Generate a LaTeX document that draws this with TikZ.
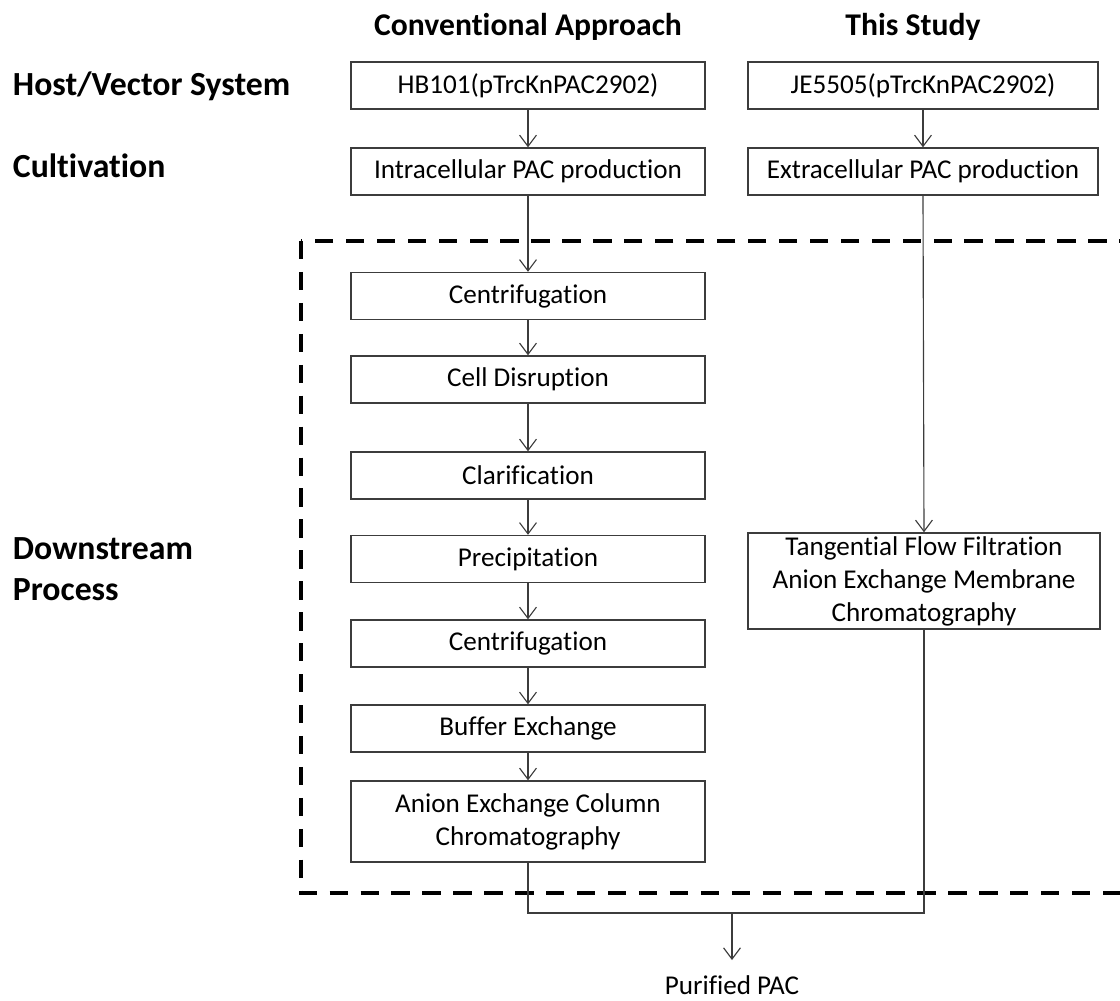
\documentclass[tikz,border=0pt]{standalone}
\usepackage{fontspec}
\setmainfont{Carlito}[Ligatures=NoCommon]
\usetikzlibrary{arrows.meta,positioning}
\definecolor{FlowGray}{RGB}{60,60,60}

\tikzset{
  stepbox/.style={draw=FlowGray, line width=1pt, fill=white, minimum width=8.85cm, minimum height=1.175cm, font=\fontsize{19.3}{23.5}\selectfont, align=center, inner sep=2pt},
  headtext/.style={font=\fontsize{22.5}{27}\selectfont\bfseries, align=left},
  sidetext/.style={font=\fontsize{24}{29}\selectfont\bfseries, align=left, anchor=west},
  flow/.style={draw=FlowGray, line width=0.8pt, -{Straight Barb[length=8pt,width=12pt]}},
  link/.style={draw=FlowGray, line width=0.8pt},
  stagebox/.style={draw=black, line width=3pt, dash pattern=on 13pt off 9pt}
}

\begin{document}
\begin{tikzpicture}[x=0.025cm, y=-0.025cm]
  \useasboundingbox (0,0) rectangle (1120,1001);
  \clip (0,0) rectangle (1120,1001);

  % column headings and stage labels
  \node[headtext] (conv) at (528,27) {Conventional Approach};
  \node[headtext] (study) at (913,27) {This Study};
  \node[sidetext] (host) at (8,86) {Host/Vector System};
  \node[sidetext] (cult) at (8,166) {Cultivation};
  \node[sidetext] (down) at (8,569) {Downstream\\Process};

  % downstream region
  \draw[stagebox] (301,241) rectangle (1150,893);

  % conventional approach
  \node[stepbox] (hb) at (528,85.5) {HB101(pTrcKnPAC2902)};
  \node[stepbox] (intra) at (528,171.5) {Intracellular PAC production};
  \node[stepbox] (cen1) at (528,296) {Centrifugation};
  \node[stepbox] (disr) at (528,379.5) {Cell Disruption};
  \node[stepbox] (clar) at (528,475.5) {Clarification};
  \node[stepbox] (prec) at (528,559) {Precipitation};
  \node[stepbox] (cen2) at (528,643.5) {Centrifugation};
  \node[stepbox] (buff) at (528,728.5) {Buffer Exchange};
  \node[stepbox, minimum height=2.025cm] (aec) at (528,821.5) {Anion Exchange Column\\Chromatography};

  % this study
  \node[stepbox, minimum width=8.75cm] (je) at (923,85.5) {JE5505(pTrcKnPAC2902)};
  \node[stepbox, minimum width=8.75cm] (extra) at (923,171.5) {Extracellular PAC production};
  \node[stepbox, minimum width=8.8cm, minimum height=2.4cm] (tff) at (924,581) {Tangential Flow Filtration\\Anion Exchange Membrane\\Chromatography};

  % result
  \coordinate (join) at (732,913);
  \node[font=\fontsize{19.3}{23}\selectfont, anchor=north, inner xsep=2pt, inner ysep=11pt] (pur) at (732,960) {Purified PAC};

  % connectors
  \draw[flow] (hb) -- (intra);
  \draw[flow] (intra) -- (cen1);
  \draw[flow] (cen1) -- (disr);
  \draw[flow] (disr) -- (clar);
  \draw[flow] (clar) -- (prec);
  \draw[flow] (prec) -- (cen2);
  \draw[flow] (cen2) -- (buff);
  \draw[flow] (buff) -- (aec);
  \draw[flow] (je) -- (extra);
  \draw[flow] (extra.south) -- (tff.north);
  \draw[link] (tff.south) |- (join) -| (aec.south);
  \draw[flow] (join) -- (pur.north);
\end{tikzpicture}
\end{document}
